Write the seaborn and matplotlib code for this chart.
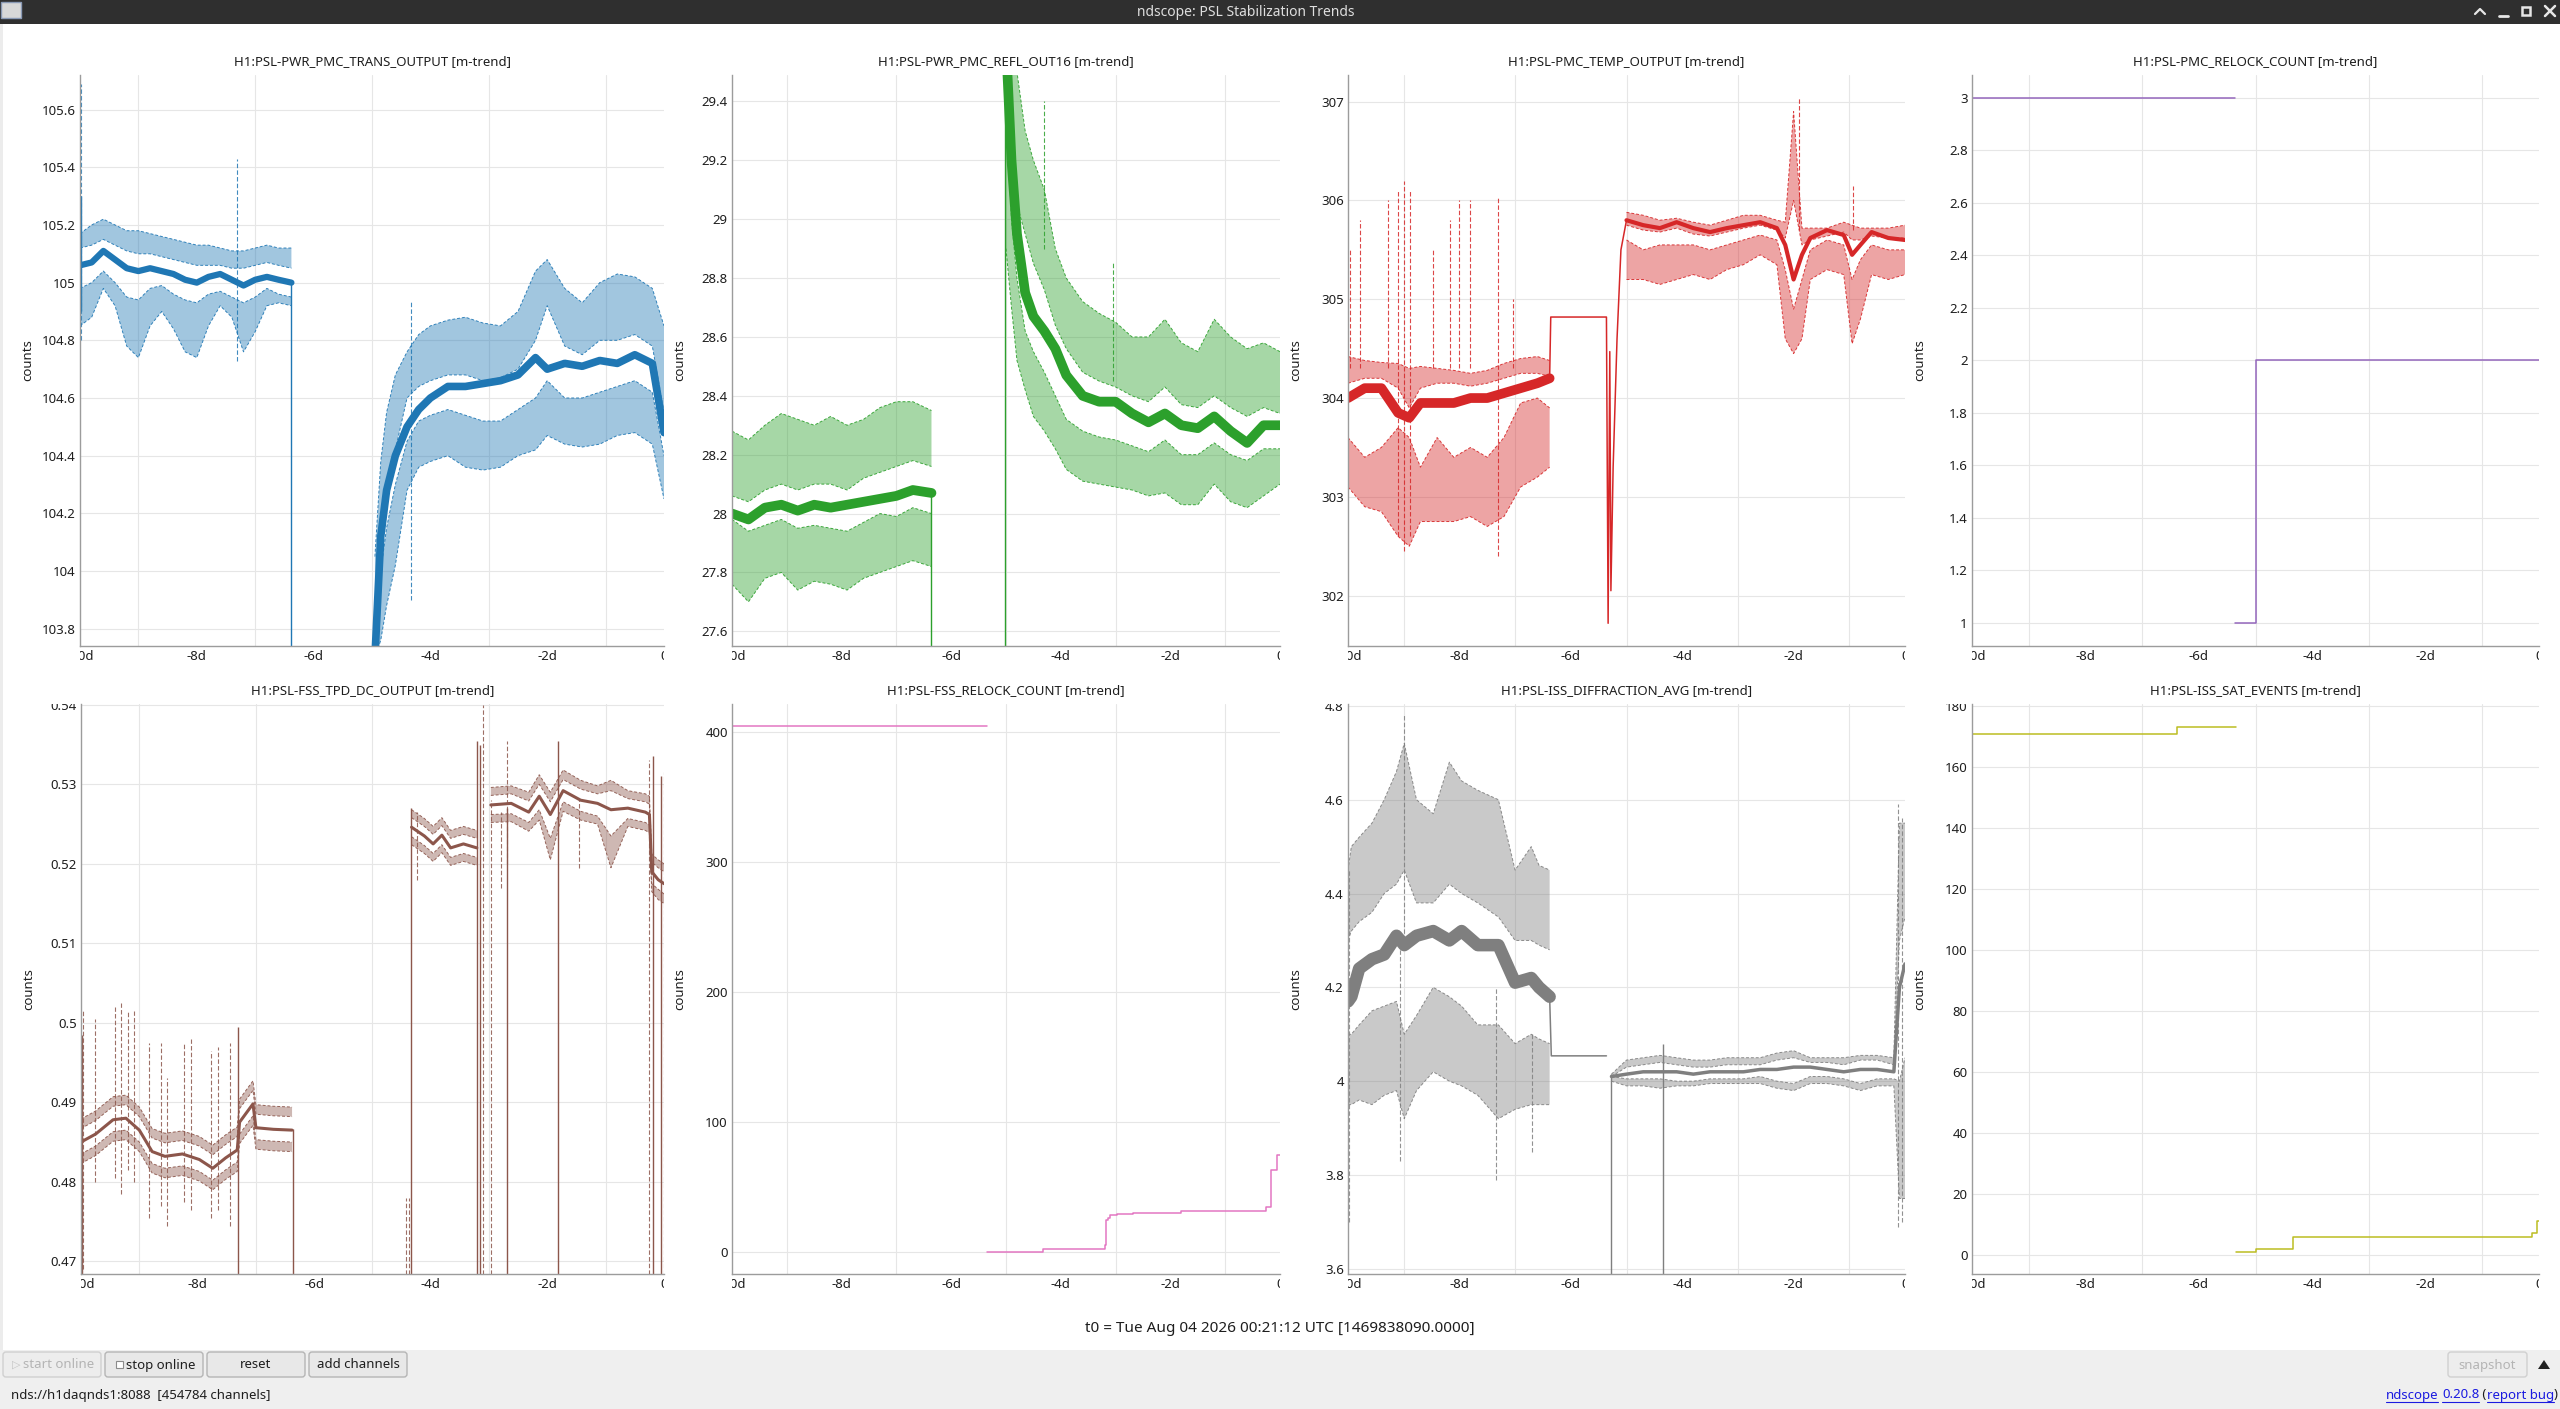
import numpy as np
import pandas as pd
import matplotlib
matplotlib.use("Agg")
import matplotlib.pyplot as plt
import seaborn as sns
from matplotlib.patches import Rectangle, FancyBboxPatch, Polygon
from matplotlib.ticker import MultipleLocator, FuncFormatter
from matplotlib.transforms import Bbox, TransformedBbox

nan = np.nan

# time axis: days relative to t0
DAY_TICKS = [-10, -8, -6, -4, -2, 0]
DAY_LABELS = ["-10d", "-8d", "-6d", "-4d", "-2d", "0"]

# ---- H1:PSL-PWR_PMC_TRANS_OUTPUT (mean + min/max band edges)
trans_t = [-10.0, -9.8, -9.6, -9.4, -9.2, -9.0, -8.8, -8.6, -8.4, -8.2, -8.0, -7.8, -7.6, -7.4, -7.2, -7.0, -6.8, -6.6, -6.38, nan,
           -4.95, -4.85, -4.75, -4.6, -4.4, -4.2, -4.0, -3.7, -3.4, -3.1, -2.8, -2.5, -2.2, -2.0, -1.7, -1.4, -1.1, -0.8, -0.5, -0.2, 0.0]
trans_mean = [105.06, 105.07, 105.11, 105.08, 105.05, 105.04, 105.05, 105.04, 105.03, 105.01, 105.0, 105.02, 105.03, 105.01, 104.99, 105.01, 105.02, 105.01, 105.0, nan,
              103.7, 104.12, 104.28, 104.4, 104.5, 104.56, 104.6, 104.64, 104.64, 104.65, 104.66, 104.68, 104.74, 104.7, 104.72, 104.71, 104.73, 104.72, 104.75, 104.72, 104.48]
trans_max_hi = [105.17, 105.2, 105.22, 105.2, 105.18, 105.18, 105.17, 105.16, 105.15, 105.14, 105.13, 105.13, 105.12, 105.11, 105.11, 105.12, 105.13, 105.12, 105.12, nan,
                104.05, 104.38, 104.55, 104.68, 104.76, 104.82, 104.85, 104.87, 104.88, 104.86, 104.85, 104.9, 105.04, 105.08, 104.98, 104.93, 105.0, 105.03, 105.02, 104.98, 104.85]
trans_max_lo = [105.12, 105.13, 105.15, 105.13, 105.11, 105.1, 105.1, 105.09, 105.08, 105.07, 105.06, 105.06, 105.06, 105.05, 105.05, 105.06, 105.07, 105.06, 105.05, nan,
                103.7, 104.05, 104.22, 104.42, 104.6, 104.64, 104.66, 104.68, 104.68, 104.66, 104.67, 104.7, 104.8, 104.92, 104.78, 104.75, 104.8, 104.8, 104.82, 104.78, 104.55]
trans_min_hi = [104.98, 105.0, 105.04, 105.0, 104.95, 104.94, 104.98, 104.99, 104.96, 104.94, 104.93, 104.96, 104.97, 104.95, 104.93, 104.95, 104.98, 104.96, 104.95, nan,
                103.8, 104.0, 104.15, 104.3, 104.45, 104.52, 104.54, 104.56, 104.54, 104.52, 104.52, 104.56, 104.6, 104.66, 104.6, 104.6, 104.62, 104.64, 104.66, 104.62, 104.4]
trans_min_lo = [104.85, 104.88, 104.98, 104.92, 104.78, 104.74, 104.85, 104.9, 104.84, 104.76, 104.74, 104.85, 104.92, 104.88, 104.76, 104.83, 104.92, 104.93, 104.92, nan,
                103.7, 103.76, 103.88, 104.02, 104.28, 104.36, 104.38, 104.4, 104.36, 104.35, 104.36, 104.4, 104.42, 104.47, 104.44, 104.43, 104.44, 104.47, 104.48, 104.44, 104.25]
trans_glitch_t = [-9.98, -7.32, -4.34]
trans_glitch_lo = [104.8, 104.73, 103.9]
trans_glitch_hi = [105.69, 105.43, 104.94]
trans_drop_t = [-9.99, -6.38]
trans_drop_lo = [104.9, 103.6]
trans_drop_hi = [105.3, 105.0]

# ---- H1:PSL-PWR_PMC_REFL_OUT16
refl_t = [-10.0, -9.7, -9.4, -9.1, -8.8, -8.5, -8.2, -7.9, -7.6, -7.3, -7.0, -6.7, -6.36, nan,
          -5.0, -4.9, -4.8, -4.65, -4.5, -4.3, -4.1, -3.9, -3.6, -3.3, -3.0, -2.7, -2.4, -2.1, -1.8, -1.5, -1.2, -0.9, -0.6, -0.3, 0.0]
refl_mean = [28.0, 27.98, 28.02, 28.03, 28.01, 28.03, 28.02, 28.03, 28.04, 28.05, 28.06, 28.08, 28.07, nan,
             29.6, 29.2, 28.95, 28.75, 28.67, 28.62, 28.56, 28.47, 28.4, 28.38, 28.38, 28.34, 28.31, 28.34, 28.3, 28.29, 28.33, 28.28, 28.24, 28.3, 28.3]
refl_max_hi = [28.28, 28.25, 28.3, 28.34, 28.32, 28.3, 28.33, 28.3, 28.32, 28.36, 28.38, 28.38, 28.35, nan,
               29.6, 29.6, 29.5, 29.3, 29.2, 29.1, 28.9, 28.8, 28.72, 28.68, 28.65, 28.6, 28.6, 28.66, 28.58, 28.55, 28.66, 28.6, 28.56, 28.58, 28.55]
refl_max_lo = [28.06, 28.04, 28.08, 28.1, 28.08, 28.1, 28.1, 28.08, 28.12, 28.14, 28.16, 28.18, 28.16, nan,
               29.4, 29.2, 29.05, 28.95, 28.85, 28.76, 28.64, 28.56, 28.48, 28.45, 28.43, 28.4, 28.38, 28.43, 28.37, 28.36, 28.4, 28.36, 28.33, 28.36, 28.34]
refl_min_hi = [27.98, 27.94, 27.96, 27.98, 27.95, 27.96, 27.95, 27.94, 27.97, 28.0, 27.99, 28.02, 28.0, nan,
               29.4, 29.0, 28.8, 28.62, 28.55, 28.48, 28.4, 28.32, 28.28, 28.26, 28.25, 28.23, 28.21, 28.25, 28.2, 28.2, 28.24, 28.2, 28.18, 28.22, 28.22]
refl_min_lo = [27.76, 27.7, 27.78, 27.8, 27.74, 27.77, 27.76, 27.74, 27.78, 27.8, 27.82, 27.84, 27.82, nan,
               28.9, 28.7, 28.52, 28.42, 28.33, 28.28, 28.22, 28.15, 28.11, 28.1, 28.09, 28.08, 28.06, 28.07, 28.03, 28.03, 28.1, 28.04, 28.02, 28.06, 28.1]
refl_glitch_t = [-4.3, -3.04]
refl_glitch_lo = [28.9, 28.45]
refl_glitch_hi = [29.4, 28.85]
refl_drop_t = [-6.36, -5.01]
refl_drop_lo = [27.4, 27.4]
refl_drop_hi = [28.08, 29.6]

# ---- H1:PSL-PMC_TEMP_OUTPUT
temp_t = [-10.0, -9.7, -9.4, -9.1, -8.9, -8.7, -8.4, -8.1, -7.8, -7.5, -7.2, -6.9, -6.6, -6.38, nan,
          -5.0, -4.7, -4.4, -4.1, -3.8, -3.5, -3.2, -2.9, -2.6, -2.3, -2.15, -2.0, -1.85, -1.7, -1.4, -1.1, -0.95, -0.8, -0.6, -0.3, 0.0]
temp_mean = [304.0, 304.1, 304.1, 303.85, 303.8, 303.95, 303.95, 303.95, 304.0, 304.0, 304.05, 304.1, 304.15, 304.2, nan,
             305.8, 305.75, 305.72, 305.78, 305.72, 305.68, 305.72, 305.75, 305.78, 305.72, 305.55, 305.2, 305.45, 305.62, 305.7, 305.65, 305.45, 305.55, 305.68, 305.62, 305.6]
temp_max_hi = [304.42, 304.38, 304.36, 304.35, 304.3, 304.32, 304.3, 304.28, 304.25, 304.28, 304.35, 304.4, 304.42, 304.38, nan,
               305.88, 305.85, 305.8, 305.82, 305.78, 305.75, 305.8, 305.85, 305.85, 305.8, 305.78, 306.9, 305.72, 305.72, 305.72, 305.78, 305.75, 305.72, 305.72, 305.72, 305.75]
temp_max_lo = [304.15, 304.2, 304.2, 304.1, 303.9, 304.1, 304.15, 304.15, 304.12, 304.15, 304.2, 304.25, 304.25, 304.22, nan,
               305.75, 305.7, 305.68, 305.72, 305.66, 305.64, 305.68, 305.72, 305.75, 305.7, 305.62, 306.0, 305.55, 305.6, 305.64, 305.68, 305.6, 305.6, 305.64, 305.62, 305.62]
temp_min_hi = [303.6, 303.4, 303.5, 303.7, 303.6, 303.3, 303.6, 303.4, 303.5, 303.4, 303.6, 303.95, 304.0, 303.9, nan,
               305.6, 305.5, 305.55, 305.55, 305.55, 305.5, 305.55, 305.6, 305.65, 305.6, 305.3, 304.9, 305.2, 305.5, 305.6, 305.55, 305.2, 305.4, 305.55, 305.5, 305.5]
temp_min_lo = [303.1, 302.9, 302.85, 302.6, 302.5, 302.75, 302.75, 302.75, 302.8, 302.7, 302.8, 303.1, 303.2, 303.3, nan,
               305.2, 305.2, 305.15, 305.2, 305.25, 305.2, 305.3, 305.35, 305.45, 305.35, 304.6, 304.45, 304.6, 305.2, 305.3, 305.25, 304.55, 304.8, 305.25, 305.2, 305.25]
temp_link_t = [-6.38, -6.36, -5.36, -5.33, -5.3, -5.28, -5.24, -5.17, -5.1, -5.0]
temp_link_v = [304.2, 304.82, 304.82, 301.72, 304.47, 302.05, 303.3, 304.6, 305.5, 305.8]
temp_glitch_t = [-9.96, -9.78, -9.28, -9.1, -8.99, -8.88, -8.47, -8.17, -8.01, -7.81, -7.3, -7.03, -1.9, -0.93]
temp_glitch_lo = [304.3, 304.3, 304.3, 302.6, 302.45, 302.6, 304.3, 304.3, 304.3, 304.3, 302.4, 304.3, 305.7, 305.7]
temp_glitch_hi = [305.5, 305.8, 306.0, 306.1, 306.2, 306.1, 305.5, 305.8, 306.0, 306.0, 306.05, 305.0, 307.05, 306.15]

# ---- H1:PSL-PMC_RELOCK_COUNT (step)
pmc_relock_t = [-10.0, -5.36, nan, -5.36, -5.0, 0.0]
pmc_relock_v = [3, 3, nan, 1, 2, 2]

# ---- H1:PSL-FSS_TPD_DC_OUTPUT
tpd_t = [-10.0, -9.75, -9.45, -9.23, -9.0, -8.78, -8.56, -8.26, -7.97, -7.74, -7.52, -7.32, -7.28, -7.05, -7.0, -6.7, -6.38, nan,
         -4.33, -4.11, -3.96, -3.81, -3.66, -3.44, -3.21, nan,
         -2.97, -2.62, -2.32, -2.14, -1.95, -1.73, -1.43, -1.14, -0.91, -0.62, -0.32, -0.25, -0.21, -0.1, 0.0]
tpd_mean = [0.485, 0.486, 0.4878, 0.488, 0.4865, 0.4838, 0.4832, 0.4835, 0.4828, 0.4817, 0.483, 0.484, 0.4875, 0.4898, 0.4868, 0.4866, 0.4865, nan,
            0.5246, 0.5235, 0.5225, 0.5236, 0.522, 0.5225, 0.522, nan,
            0.5274, 0.5276, 0.5265, 0.5285, 0.5262, 0.5292, 0.528, 0.5276, 0.5268, 0.527, 0.5265, 0.5262, 0.519, 0.518, 0.5175]
tpd_max_hi = [0.4879, 0.4889, 0.4907, 0.4909, 0.4894, 0.4867, 0.4861, 0.4864, 0.4857, 0.4846, 0.4859, 0.4869, 0.4904, 0.4927, 0.4897, 0.4895, 0.4894, nan,
              0.5268, 0.5257, 0.5247, 0.5258, 0.5242, 0.5247, 0.5242, nan,
              0.5296, 0.5298, 0.529, 0.5312, 0.529, 0.5318, 0.5305, 0.5298, 0.5305, 0.5292, 0.5288, 0.5285, 0.5212, 0.5205, 0.52]
tpd_max_lo = [0.4867, 0.4877, 0.4895, 0.4897, 0.4882, 0.4855, 0.4849, 0.4852, 0.4845, 0.4834, 0.4847, 0.4857, 0.4892, 0.4915, 0.4885, 0.4883, 0.4882, nan,
              0.5258, 0.5247, 0.5237, 0.5248, 0.5232, 0.5237, 0.5232, nan,
              0.5286, 0.5288, 0.5279, 0.53, 0.5278, 0.5306, 0.5294, 0.5288, 0.5292, 0.5282, 0.5278, 0.5275, 0.5202, 0.5195, 0.519]
tpd_min_hi = [0.4835, 0.4845, 0.4863, 0.4865, 0.485, 0.4823, 0.4817, 0.482, 0.4813, 0.4802, 0.4815, 0.4825, 0.486, 0.4883, 0.4853, 0.4851, 0.485, nan,
              0.5234, 0.5223, 0.5213, 0.5224, 0.5208, 0.5213, 0.5208, nan,
              0.5262, 0.5263, 0.5252, 0.5268, 0.5232, 0.5278, 0.5266, 0.526, 0.5235, 0.5257, 0.5252, 0.5249, 0.5175, 0.5168, 0.5162]
tpd_min_lo = [0.4823, 0.4833, 0.4851, 0.4853, 0.4838, 0.4811, 0.4805, 0.4808, 0.4801, 0.479, 0.4803, 0.4813, 0.4848, 0.4871, 0.4841, 0.4839, 0.4838, nan,
              0.5224, 0.5213, 0.5203, 0.5214, 0.5198, 0.5203, 0.5198, nan,
              0.5252, 0.5253, 0.5241, 0.5255, 0.5205, 0.5266, 0.5255, 0.525, 0.5195, 0.5247, 0.5242, 0.5239, 0.5165, 0.5155, 0.515]
tpd_glitch_t = [-9.97, -9.76, -9.41, -9.32, -9.2, -9.09, -8.83, -8.63, -8.52, -8.23, -8.11, -7.77, -7.65, -7.45,
                -4.42, -4.37, -4.23, -3.1, -2.97, -2.8, -2.69, -1.46, -0.26, 0.0]
tpd_glitch_lo = [0.469, 0.48, 0.4805, 0.4785, 0.4815, 0.48, 0.4755, 0.477, 0.4745, 0.4775, 0.4765, 0.4755, 0.4765, 0.4745,
                 0.46, 0.46, 0.518, 0.46, 0.46, 0.517, 0.52, 0.5195, 0.46, 0.46]
tpd_glitch_hi = [0.5015, 0.5005, 0.502, 0.5025, 0.5015, 0.5015, 0.4975, 0.4975, 0.493, 0.4975, 0.498, 0.4965, 0.497, 0.4975,
                 0.478, 0.478, 0.5265, 0.54, 0.528, 0.5265, 0.5355, 0.528, 0.533, 0.5315]
tpd_drop_t = [-9.99, -7.31, -6.37, -4.34, -3.2, -3.16, -2.69, -1.82, -0.19, -0.06]
tpd_drop_lo = [0.46, 0.46, 0.46, 0.46, 0.46, 0.46, 0.46, 0.46, 0.46, 0.46]
tpd_drop_hi = [0.4985, 0.4995, 0.4866, 0.527, 0.5355, 0.535, 0.527, 0.5355, 0.5335, 0.531]

# ---- H1:PSL-FSS_RELOCK_COUNT (step)
fss_relock_t = [-10.0, -5.35, nan, -5.35, -4.33, -3.2, -3.17, -3.14, -3.1, -2.97, -2.69, -1.8, -0.26, -0.16, -0.06, 0.0]
fss_relock_v = [404, 404, nan, 0, 2, 5, 24, 26, 28, 29, 30, 31, 34, 63, 74, 74]

# ---- H1:PSL-ISS_DIFFRACTION_AVG
diff_t = [-10.0, -9.94, -9.8, -9.57, -9.35, -9.13, -8.99, -8.77, -8.47, -8.18, -7.96, -7.67, -7.3, -7.0, -6.71, -6.57, -6.38, nan,
          -5.27, -5.0, -4.7, -4.4, -4.1, -3.8, -3.5, -3.2, -2.9, -2.6, -2.3, -2.0, -1.7, -1.4, -1.1, -0.8, -0.5, -0.2, -0.1, 0.0]
diff_mean = [4.17, 4.18, 4.24, 4.26, 4.27, 4.31, 4.29, 4.31, 4.32, 4.3, 4.32, 4.29, 4.29, 4.21, 4.22, 4.2, 4.18, nan,
             4.01, 4.015, 4.02, 4.02, 4.02, 4.015, 4.02, 4.02, 4.02, 4.025, 4.025, 4.03, 4.03, 4.025, 4.02, 4.025, 4.025, 4.02, 4.2, 4.25]
diff_max_hi = [4.45, 4.5, 4.52, 4.55, 4.6, 4.66, 4.72, 4.6, 4.57, 4.68, 4.64, 4.62, 4.6, 4.45, 4.5, 4.46, 4.45, nan,
               4.015, 4.045, 4.05, 4.055, 4.05, 4.045, 4.045, 4.05, 4.05, 4.05, 4.06, 4.065, 4.05, 4.05, 4.05, 4.055, 4.055, 4.05, 4.55, 4.55]
diff_max_lo = [4.3, 4.32, 4.34, 4.36, 4.4, 4.42, 4.45, 4.38, 4.38, 4.42, 4.4, 4.38, 4.35, 4.3, 4.3, 4.29, 4.28, nan,
               4.01, 4.03, 4.035, 4.04, 4.035, 4.03, 4.03, 4.035, 4.035, 4.035, 4.045, 4.05, 4.04, 4.04, 4.035, 4.045, 4.045, 4.035, 4.3, 4.35]
diff_min_hi = [4.1, 4.1, 4.12, 4.15, 4.16, 4.17, 4.1, 4.14, 4.2, 4.18, 4.16, 4.12, 4.12, 4.08, 4.1, 4.09, 4.08, nan,
               4.01, 4.005, 4.005, 4.005, 4.0, 4.0, 4.005, 4.005, 4.005, 4.01, 4.0, 3.995, 4.01, 4.01, 4.005, 3.995, 4.005, 4.005, 4.0, 4.05]
diff_min_lo = [3.95, 3.95, 3.96, 3.95, 3.97, 3.98, 3.92, 3.98, 4.02, 4.0, 3.99, 3.97, 3.92, 3.94, 3.95, 3.95, 3.95, nan,
               4.0, 3.99, 3.99, 3.985, 3.99, 3.99, 3.995, 3.995, 3.995, 3.995, 3.985, 3.98, 3.995, 3.995, 3.99, 3.98, 3.99, 3.99, 3.75, 3.75]
diff_link_t = [-6.38, -6.35, -5.36]
diff_link_v = [4.18, 4.054, 4.054]
diff_glitch_t = [-9.98, -9.06, -8.99, -7.34, -6.7, -0.12, -0.05]
diff_glitch_lo = [3.7, 3.83, 4.3, 3.79, 3.85, 3.69, 3.7]
diff_glitch_hi = [4.45, 4.3, 4.78, 4.2, 4.1, 4.59, 4.56]
diff_drop_t = [-5.27, -4.34]
diff_drop_lo = [3.5, 3.5]
diff_drop_hi = [4.015, 4.08]

# ---- H1:PSL-ISS_SAT_EVENTS (step)
sat_t = [-10.0, -6.38, -5.35, nan, -5.35, -5.0, -4.33, -0.13, -0.04, 0.0]
sat_v = [171, 173, 173, nan, 1, 2, 6, 7, 11, 11]

W, H = 2560, 1409
INK = "#1e1e1e"
GRID = "#e6e6e6"

sns.set_theme(style="white")
plt.rcParams["font.family"] = ["Noto Sans", "DejaVu Sans"]

fig = plt.figure(figsize=(W / 100, H / 100), dpi=100)
fig.patch.set_facecolor("white")

# full-window layer in pixel coordinates for the ndscope window chrome
chrome = fig.add_axes([0, 0, 1, 1], zorder=-1)
chrome.set_xlim(0, W)
chrome.set_ylim(H, 0)
chrome.axis("off")


def segments(t, v):
    df = pd.DataFrame({"t": t, "v": v})
    df["seg"] = df["t"].isna().cumsum()
    return df.dropna()


def draw_trend(ax, t, mean, max_hi, max_lo, min_hi, min_lo, color, widths):
    t = np.asarray(t, float)
    for lo, hi in [(max_lo, max_hi), (min_lo, min_hi)]:
        lo = np.asarray(lo, float)
        hi = np.asarray(hi, float)
        ax.fill_between(t, lo, hi, color=color, alpha=0.42, lw=0)
        # the min/max traces are drawn dashed in ndscope
        ax.plot(t, lo, color=color, lw=0.7, ls=(0, (3, 2)), alpha=0.9)
        ax.plot(t, hi, color=color, lw=0.7, ls=(0, (3, 2)), alpha=0.9)
    df = segments(t, mean)
    for i, (_, seg) in enumerate(df.groupby("seg")):
        sns.lineplot(data=seg, x="t", y="v", estimator=None, sort=False, color=color,
                     lw=widths[min(i, len(widths) - 1)], ax=ax, legend=False)


def draw_spikes(ax, t, lo, hi, color, dashed):
    if dashed:
        ax.vlines(t, lo, hi, colors=color, lw=0.8, linestyles=(0, (4, 2)), alpha=0.85)
    else:
        ax.vlines(t, lo, hi, colors=color, lw=1.0)


def draw_step(ax, t, v, color):
    sns.lineplot(data=segments(t, v), x="t", y="v", units="seg", estimator=None, sort=False,
                 color=color, lw=1.1, drawstyle="steps-post", ax=ax, legend=False)


def fmt(v, pos):
    return f"{round(v, 6) + 0.0:g}"


def make_axes(box, title, ylim, ystep):
    x0, y0, x1, y1 = box
    ax = fig.add_axes([x0 / W, 1 - y1 / H, (x1 - x0) / W, (y1 - y0) / H])
    ax.set_facecolor("white")
    ax._box = box
    ax._title = title
    ax._ylim = ylim
    ax._ystep = ystep
    return ax


def style_axes(ax):
    x0, y0, x1, y1 = ax._box
    ax.set_xlim(-10, 0)
    ax.set_ylim(*ax._ylim)
    ax.set_xticks(DAY_TICKS, DAY_LABELS)
    ax.set_xticks(range(-10, 1), minor=True)
    ax.yaxis.set_major_locator(MultipleLocator(ax._ystep))
    ax.yaxis.set_major_formatter(FuncFormatter(fmt))
    ax.grid(False)
    ax.grid(True, which="major", axis="y", color=GRID, lw=0.8)
    ax.grid(True, which="minor", axis="x", color=GRID, lw=0.8)
    ax.set_axisbelow(True)
    ax.tick_params(which="both", length=0, labelsize=9.5, labelcolor=INK, pad=3)
    for s in ["top", "right"]:
        ax.spines[s].set_visible(False)
    for s in ["left", "bottom"]:
        ax.spines[s].set_color("#9c9c9c")
        ax.spines[s].set_linewidth(1.0)
    ax.set_xlabel("")
    ax.set_ylabel("counts", fontsize=9.5, color=INK)
    ax.yaxis.set_label_coords(-46 / (x1 - x0), 0.5)
    ax.set_title(ax._title, fontsize=9.5, color=INK, pad=7)
    # ndscope clips tick labels to the plot's own strip
    xclip = TransformedBbox(Bbox([[x0 / W, 0], [x1 / W, 1]]), fig.transFigure)
    yclip = TransformedBbox(Bbox([[0, 1 - y1 / H], [1, 1 - y0 / H]]), fig.transFigure)
    for lab in ax.get_xticklabels():
        lab.set_clip_on(True)
        lab.set_clip_box(xclip)
    for lab in ax.get_yticklabels():
        lab.set_clip_on(True)
        lab.set_clip_box(yclip)


TOP, BOT = (75, 646), (704, 1274)
COLS = [(80, 664), (732, 1280), (1348, 1905), (1972, 2539)]

ax1 = make_axes((COLS[0][0], TOP[0], COLS[0][1], TOP[1]), "H1:PSL-PWR_PMC_TRANS_OUTPUT [m-trend]", (103.74, 105.72), 0.2)
draw_trend(ax1, trans_t, trans_mean, trans_max_hi, trans_max_lo, trans_min_hi, trans_min_lo, "tab:blue", [4.5, 5.5])
draw_spikes(ax1, trans_glitch_t, trans_glitch_lo, trans_glitch_hi, "tab:blue", True)
draw_spikes(ax1, trans_drop_t, trans_drop_lo, trans_drop_hi, "tab:blue", False)

ax2 = make_axes((COLS[1][0], TOP[0], COLS[1][1], TOP[1]), "H1:PSL-PWR_PMC_REFL_OUT16 [m-trend]", (27.55, 29.49), 0.2)
draw_trend(ax2, refl_t, refl_mean, refl_max_hi, refl_max_lo, refl_min_hi, refl_min_lo, "tab:green", [7, 7])
draw_spikes(ax2, refl_glitch_t, refl_glitch_lo, refl_glitch_hi, "tab:green", True)
draw_spikes(ax2, refl_drop_t, refl_drop_lo, refl_drop_hi, "tab:green", False)

ax3 = make_axes((COLS[2][0], TOP[0], COLS[2][1], TOP[1]), "H1:PSL-PMC_TEMP_OUTPUT [m-trend]", (301.49, 307.27), 1)
draw_trend(ax3, temp_t, temp_mean, temp_max_hi, temp_max_lo, temp_min_hi, temp_min_lo, "tab:red", [7, 3])
sns.lineplot(x=temp_link_t, y=temp_link_v, estimator=None, sort=False, color="tab:red", lw=1.1, ax=ax3)
draw_spikes(ax3, temp_glitch_t, temp_glitch_lo, temp_glitch_hi, "tab:red", True)

ax4 = make_axes((COLS[3][0], TOP[0], COLS[3][1], TOP[1]), "H1:PSL-PMC_RELOCK_COUNT [m-trend]", (0.912, 3.086), 0.2)
draw_step(ax4, pmc_relock_t, pmc_relock_v, "tab:purple")

ax5 = make_axes((81, BOT[0], COLS[0][1], BOT[1]), "H1:PSL-FSS_TPD_DC_OUTPUT [m-trend]", (0.4684, 0.5401), 0.01)
draw_trend(ax5, tpd_t, tpd_mean, tpd_max_hi, tpd_max_lo, tpd_min_hi, tpd_min_lo, "tab:brown", [2.2])
draw_spikes(ax5, tpd_glitch_t, tpd_glitch_lo, tpd_glitch_hi, "tab:brown", True)
draw_spikes(ax5, tpd_drop_t, tpd_drop_lo, tpd_drop_hi, "tab:brown", False)

ax6 = make_axes((COLS[1][0], BOT[0], COLS[1][1], BOT[1]), "H1:PSL-FSS_RELOCK_COUNT [m-trend]", (-17.2, 421.3), 100)
draw_step(ax6, fss_relock_t, fss_relock_v, "tab:pink")

ax7 = make_axes((COLS[2][0], BOT[0], COLS[2][1], BOT[1]), "H1:PSL-ISS_DIFFRACTION_AVG [m-trend]", (3.589, 4.804), 0.2)
draw_trend(ax7, diff_t, diff_mean, diff_max_hi, diff_max_lo, diff_min_hi, diff_min_lo, "tab:gray", [9, 2.5])
sns.lineplot(x=diff_link_t, y=diff_link_v, estimator=None, sort=False, color="tab:gray", lw=1.1, ax=ax7)
draw_spikes(ax7, diff_glitch_t, diff_glitch_lo, diff_glitch_hi, "tab:gray", True)
draw_spikes(ax7, diff_drop_t, diff_drop_lo, diff_drop_hi, "tab:gray", False)

ax8 = make_axes((COLS[3][0], BOT[0], COLS[3][1], BOT[1]), "H1:PSL-ISS_SAT_EVENTS [m-trend]", (-6.3, 180.7), 20)
draw_step(ax8, sat_t, sat_v, "tab:olive")

for ax in [ax1, ax2, ax3, ax4, ax5, ax6, ax7, ax8]:
    style_axes(ax)

# ---- window chrome
chrome.add_patch(Rectangle((0, 0), W, 24, color="#2f2f2f", lw=0))
chrome.add_patch(Rectangle((1, 2), 20, 16, facecolor="#d8d8d8", edgecolor="#8a9ab5", lw=1))
chrome.text(1246, 12, "ndscope: PSL Stabilization Trends", ha="center", va="center",
            fontsize=10, fontweight="bold", color="#dedede")
ctl = "#e6e6e6"
chrome.plot([2475, 2480, 2485], [14, 9, 14], color=ctl, lw=1.6)
chrome.plot([2499, 2508], [16, 16], color=ctl, lw=2.0)
chrome.add_patch(Rectangle((2522, 7), 8, 8, facecolor="none", edgecolor=ctl, lw=1.8))
chrome.plot([2545, 2555], [6, 16], color=ctl, lw=1.8)
chrome.plot([2545, 2555], [16, 6], color=ctl, lw=1.8)
chrome.add_patch(Rectangle((0, 24), 3, 1326, color="#ececec", lw=0))

chrome.text(1280, 1328, "t0 = Tue Aug 04 2026 00:21:12 UTC [1469838090.0000]", ha="center", va="center",
            fontsize=11, color=INK)

chrome.add_patch(Rectangle((0, 1350), W, H - 1350, color="#efefef", lw=0))


def button(x0, x1, label, enabled=True, cx=None):
    face = "#e8e8e8" if enabled else "#ededed"
    edge = "#b5b5b5" if enabled else "#d0d0d0"
    chrome.add_patch(FancyBboxPatch((x0, 1352), x1 - x0, 25, boxstyle="round,pad=0,rounding_size=3",
                                    facecolor=face, edgecolor=edge, lw=1))
    chrome.text(cx if cx else (x0 + x1) / 2, 1365, label, ha="center", va="center", fontsize=9.5,
                color=INK if enabled else "#b4b4b4")


button(3, 101, "start online", enabled=False, cx=59)
chrome.text(16, 1365, "\u25b7", ha="center", va="center", fontsize=8, color="#c4c4c4")
button(105, 203, "stop online", cx=161)
chrome.add_patch(Rectangle((116, 1361), 7, 7, facecolor="white", edgecolor="#8c8c8c", lw=0.8))
button(207, 305, "reset")
button(309, 407, "add channels")
button(2448, 2527, "snapshot", enabled=False)
chrome.add_patch(Polygon([[2538, 1369], [2550, 1369], [2544, 1360]], closed=True, color="#222222", lw=0))

chrome.text(11, 1395, "nds://h1daqnds1:8088  [454784 channels]", ha="left", va="center", fontsize=9.5, color=INK)

renderer = fig.canvas.get_renderer()
LINK = "#1a1ae0"
pieces = [("ndscope", LINK, True), (" ", INK, False), ("0.20.8", LINK, True), (" (", INK, False),
          ("report bug", LINK, True), (")", INK, False)]
x = 2558
for txt, col, ul in reversed(pieces):
    if txt == " ":
        x -= 4
        continue
    t = chrome.text(x, 1395, txt, ha="right", va="center", fontsize=9.5, color=col)
    bb = t.get_window_extent(renderer)
    if ul:
        chrome.plot([bb.x0, bb.x1], [1402, 1402], color=col, lw=0.8)
    x = bb.x0

fig.savefig("out.png", dpi=100)
